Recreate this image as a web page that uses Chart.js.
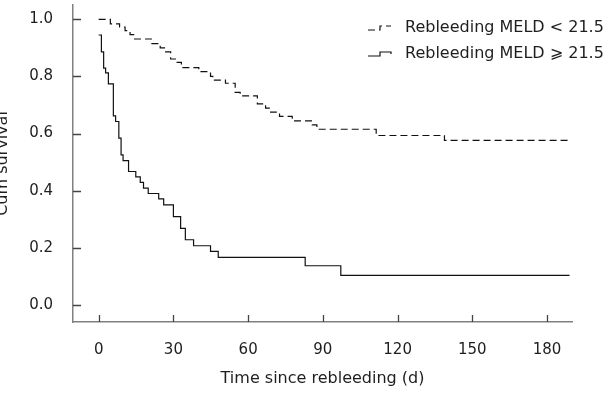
<!DOCTYPE html>
<html><head><meta charset="utf-8">
<script src="https://cdn.jsdelivr.net/npm/chart.js@4/dist/chart.umd.min.js"></script>
<style>html,body{margin:0;padding:0;background:#fff;overflow:hidden}</style>
</head><body>
<canvas id="c" width="605" height="394"></canvas>
<script>
// ---- data ----
const seriesNames = ['Rebleeding MELD < 21.5', 'Rebleeding MELD \u2A7E 21.5'];
const daysLow = [0, 4.7, 8.4, 10.6, 12.6, 14.4, 21.4, 24.7, 26.9, 28.9, 31.2, 33.2, 40.2, 44.9, 45.8, 50.9, 54.8, 56.8, 63.7, 67.0, 69.0, 72.6, 77.7, 85.7, 87.6, 111.4, 138.8, 188.3];
const survLow = [1.0, 0.984, 0.973, 0.960, 0.946, 0.931, 0.915, 0.900, 0.886, 0.861, 0.849, 0.831, 0.817, 0.800, 0.787, 0.776, 0.744, 0.732, 0.704, 0.689, 0.675, 0.660, 0.644, 0.630, 0.615, 0.593, 0.576, 0.576];
const daysHigh = [0, 1.1, 2.0, 2.8, 3.9, 5.9, 6.8, 8.1, 9.0, 9.8, 12.0, 14.9, 16.7, 18.0, 19.9, 24.1, 26.1, 30.0, 32.9, 34.8, 38.1, 44.9, 48.0, 82.9, 97.2, 189.0];
const survHigh = [0.945, 0.886, 0.829, 0.812, 0.774, 0.662, 0.642, 0.584, 0.525, 0.505, 0.467, 0.448, 0.429, 0.409, 0.390, 0.371, 0.350, 0.309, 0.268, 0.228, 0.207, 0.187, 0.166, 0.137, 0.103, 0.103];
const xTicks = [0, 30, 60, 90, 120, 150, 180];
const yTicks = [0.0, 0.2, 0.4, 0.6, 0.8, 1.0];
const xTitle = 'Time since rebleeding (d)';
const yTitle = 'Cum survival';

const toPts = (xs, ys) => xs.map((x, i) => ({x: x, y: ys[i]}));
const FONT = 'DejaVu Sans';
const TXT = '#1e1e1e';

const insideTicks = {
  id: 'insideTicks',
  afterDatasetsDraw(chart) {
    const c = chart.ctx, xs = chart.scales.x, ys = chart.scales.y;
    const ca = chart.chartArea;
    c.save();
    c.setLineDash([]);
    c.strokeStyle = '#444';
    c.lineWidth = 1.3;
    c.beginPath();
    xTicks.forEach(v => {
      const px = Math.round(xs.getPixelForValue(v)) + 0.5;
      c.moveTo(px, ca.bottom); c.lineTo(px, ca.bottom - 7);
    });
    yTicks.forEach(v => {
      const py = Math.round(ys.getPixelForValue(v)) + 0.5;
      c.moveTo(ca.left, py); c.lineTo(ca.left + 8, py);
    });
    c.stroke();
    c.restore();
  }
};

const legendPlugin = {
  id: 'stepLegend',
  afterDraw(chart) {
    const c = chart.ctx;
    const rowsY = [28, 54];
    chart.data.datasets.forEach((ds, i) => {
      const y = rowsY[i];
      c.save();
      c.strokeStyle = ds.borderColor;
      c.lineWidth = ds.borderWidth;
      c.setLineDash(ds.borderDash || []);
      c.beginPath();
      c.moveTo(368, y + 2); c.lineTo(380, y + 2); c.lineTo(380, y - 2); c.lineTo(391, y - 2);
      if (!ds.borderDash) c.lineTo(391, y);
      c.stroke();
      c.setLineDash([]);
      c.fillStyle = TXT;
      c.font = '16px "' + FONT + '"';
      c.textBaseline = 'middle';
      c.textAlign = 'left';
      c.fillText(ds.label, 405, y);
      c.restore();
    });
  }
};

new Chart(document.getElementById('c'), {
  type: 'line',
  data: {
    datasets: [
      { label: seriesNames[0], data: toPts(daysLow, survLow), stepped: 'before', borderColor: '#111', borderWidth: 1.2, borderDash: [7, 4], pointRadius: 0, fill: false },
      { label: seriesNames[1], data: toPts(daysHigh, survHigh), stepped: 'before', borderColor: '#111', borderWidth: 1.2, pointRadius: 0, fill: false }
    ]
  },
  options: {
    responsive: false, animation: false, devicePixelRatio: 1,
    layout: { padding: { top: 5, right: 33, left: 0, bottom: 0 } },
    plugins: { legend: { display: false }, tooltip: { enabled: false }, title: { display: false } },
    scales: {
      x: {
        type: 'linear', min: -10.3, max: 190,
        afterBuildTicks: s => { s.ticks = xTicks.map(v => ({ value: v })); },
        afterFit: s => { s.height = 72; s.paddingLeft = 0; s.paddingRight = 0; },
        grid: { drawOnChartArea: false, drawTicks: false },
        border: { display: true, color: '#808080', width: 1.5 },
        ticks: { padding: 19, color: TXT, font: { family: FONT, size: 15 }, maxRotation: 0, autoSkip: false },
        title: { display: true, text: xTitle, color: TXT, font: { family: FONT, size: 16 }, padding: { top: 0, bottom: 6 } }
      },
      y: {
        type: 'linear', min: -0.06, max: 1.05,
        afterBuildTicks: s => { s.ticks = yTicks.map(v => ({ value: v })); },
        afterFit: s => { s.width = 73; s.paddingTop = 0; s.paddingBottom = 0; },
        grid: { drawOnChartArea: false, drawTicks: false },
        border: { display: true, color: '#808080', width: 1.5 },
        ticks: { padding: 20, color: TXT, font: { family: FONT, size: 15 }, callback: v => Number(v).toFixed(1) },
        title: { display: true, text: yTitle, color: TXT, font: { family: FONT, size: 16 }, padding: { top: -7, bottom: 0 } }
      }
    }
  },
  plugins: [insideTicks, legendPlugin]
});
</script>
</body></html>
